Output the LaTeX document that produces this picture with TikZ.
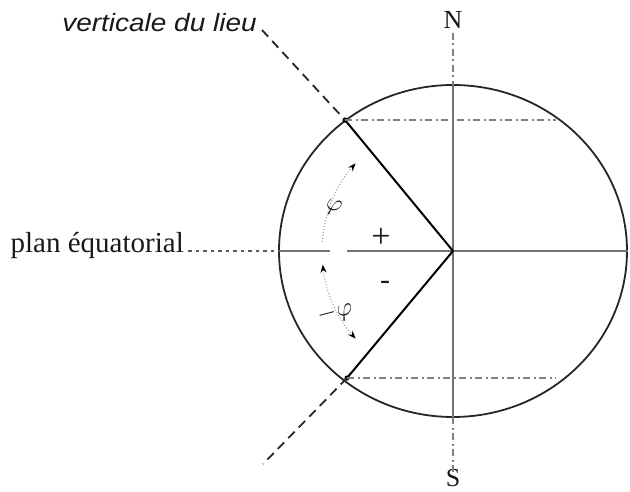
\documentclass[tikz,border=0pt]{standalone}
\usepackage{fontspec}
\setmainfont{Liberation Serif}
\newfontfamily\labsans{Liberation Sans}
\usetikzlibrary{arrows.meta,calc}
\begin{document}
\begin{tikzpicture}[x=1pt,y=-1pt,
  axisline/.style={draw=black!55, line width=1.9pt},
  circline/.style={draw=black!85, line width=1.8pt},
  radline/.style={draw=black, line width=2pt},
  dashline/.style={draw=black!85, line width=1.8pt, dash pattern=on 9pt off 6pt},
  dotline/.style={draw=black!65, line width=1.5pt, dash pattern=on 3.5pt off 4pt},
  dashdot/.style={draw=black!50, line width=1.4pt, dash pattern=on 7pt off 3.5pt on 2pt off 3.5pt},
  anglearc/.style={draw=black!40, line width=1pt, dotted, arrows={-Stealth[length=8pt,width=6pt,black]}},
  lab/.style={inner sep=0pt, text=black!90}
]
\useasboundingbox (0,0) rectangle (630,492);
\coordinate (O) at (453,251);
\coordinate (P1) at (345,120);
\coordinate (P2) at (347,378);
\coordinate (E1) at (280,251);
\coordinate (E2) at (330,251);
\coordinate (E3) at (347,251);
\coordinate (E4) at (628,251);
\coordinate (T) at (453,85);
\coordinate (B) at (453,417);
\coordinate (H1) at (556,120);
\coordinate (H2) at (556,378);
\coordinate (V1) at (262,30);
\coordinate (V2) at (263,464);

% labels
\node[lab, font=\fontsize{26}{26}\selectfont] (N) at (453,20) {N};
\node[lab, font=\fontsize{26}{26}\selectfont] (S) at (453,478) {S};
\node[lab, anchor=base east, font=\fontsize{29}{29}\selectfont] (plan) at (184,252) {plan équatorial};
\node[lab, anchor=base east, font=\labsans\itshape\fontsize{25}{25}\selectfont] (vert) at (257,32) {\scalebox{1.12}[1]{verticale du lieu}};
\node[lab, font=\fontsize{34}{34}\selectfont] (plus) at (381,238) {+};
\node[lab, font=\fontsize{30}{30}\selectfont] (minus) at (385,285) {-};

% circle
\draw[circline] (O) ellipse [x radius=174, y radius=166];

% axes
\draw[axisline] (E1) -- (E2);
\draw[axisline] (E3) -- (E4);
\draw[axisline] (T) -- (B);
\draw[dashdot] (N.south) ++(0,4) -- (T);
\draw[dashdot] (B) -- ([yshift=-4pt]S.north);

% equatorial plane marker
\draw[dotline] ([xshift=4pt]plan.base east) ++(0,-1) -- (E1);

% radii
\draw[radline] (O) -- (P1);
\draw[radline] (O) -- (P2);
\fill (P1) circle (2.6pt);
\fill (P2) circle (2.6pt);

% verticale du lieu
\draw[dashline] (V1) -- (P1);
\draw[dashline] (P2) -- (V2);

% parallels
\draw[dashdot] (P1) -- (H1);
\draw[dashdot] (P2) -- (H2);

% angle arcs
\draw[anglearc] (O) ++(184:131) arc[start angle=184, end angle=222, radius=131];
\draw[anglearc, arrows={Stealth[length=8pt,width=6pt,black]-Stealth[length=8pt,width=6pt,black]}] (O) ++(174:131) arc[start angle=174, end angle=138, radius=131];
\node[lab, font=\fontsize{26}{26}\selectfont, rotate=-15] (phi1) at ($(O)+(200:127)$) {$\varphi$};
\node[lab, font=\fontsize{24}{24}\selectfont, rotate=15] (phi2) at ($(O)+(152:133)$) {$-\varphi$};
\end{tikzpicture}
\end{document}
